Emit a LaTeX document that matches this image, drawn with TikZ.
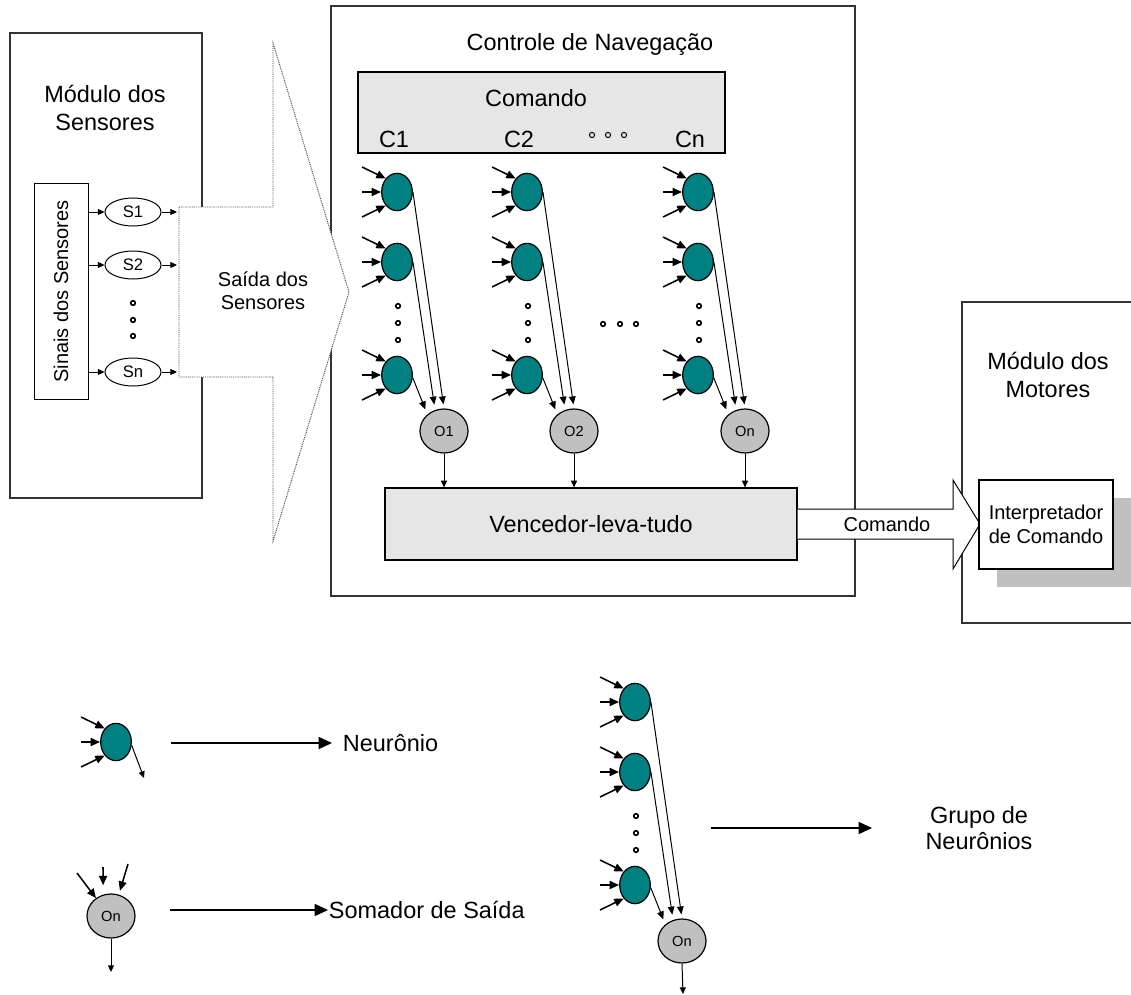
\documentclass[tikz,border=0pt]{standalone}
\usepackage{fontspec}
\setmainfont{Liberation Sans}
\usetikzlibrary{arrows.meta,shapes.geometric}

\definecolor{neurofill}{HTML}{008080}
\definecolor{sumfill}{HTML}{C0C0C0}
\definecolor{panelfill}{HTML}{E6E6E6}
\definecolor{shadowgray}{HTML}{C0C0C0}
\definecolor{edgegray}{HTML}{333333}

\newcommand{\fsz}[2]{\fontsize{#1}{#2}\selectfont}

% a neuron with its three incoming synapses
\newcommand{\inputneuron}[3]{%
  \node[neuron] (#1) at (#2,#3) {};
  \draw[inarrow] ([shift={(-35,-25)}]#1.center) -- (#1.130);
  \draw[inarrow] ([shift={(-35,0)}]#1.center) -- (#1.180);
  \draw[inarrow] ([shift={(-35,25)}]#1.center) -- (#1.230);
}

% a column of neurons feeding one output summer
\newcommand{\neurongroup}[4]{%
  \inputneuron{#1a}{#2}{#3}
  \inputneuron{#1b}{#2}{#3+70}
  \inputneuron{#1c}{#2}{#3+183}
  \foreach \dy in {114,131,148} \draw[dotmark] (#2+1,#3+\dy) circle[radius=2.3];
  \node[summer] (#1o) at (#2+47,#3+239) {#4};
  \draw[outarrow,shorten >=3pt] (#1a.east) -- (#1o.90);
  \draw[outarrow,shorten >=4pt] (#1b.east) -- (#1o.113);
  \draw[outarrow,shorten >=4pt] (#1c.-10) -- (#1o.135);
}

\begin{document}
\begin{tikzpicture}[x=0.75pt,y=-0.75pt,
  frame/.style={draw=edgegray,line width=0.9pt,rectangle,inner sep=0pt},
  neuron/.style={ellipse,draw=black,line width=0.9pt,fill=neurofill,
    minimum width=23pt,minimum height=28pt,inner sep=0pt},
  summer/.style={ellipse,draw=black,line width=0.9pt,fill=sumfill,
    minimum width=36pt,minimum height=33pt,inner sep=0pt,font=\fsz{11}{12}},
  sensor/.style={ellipse,draw=black,line width=0.75pt,fill=white,
    minimum width=42pt,minimum height=21pt,inner sep=0pt,font=\fsz{12.5}{14}},
  inarrow/.style={line width=1.15pt,-{Triangle[length=7pt,width=6pt]}},
  outarrow/.style={line width=0.75pt,-{Triangle[length=6pt,width=5pt]}},
  smallarrow/.style={line width=0.75pt,-{Triangle[length=5pt,width=4.5pt]}},
  bigarrow/.style={line width=1.1pt,-{Triangle[length=10pt,width=9pt]}},
  dotmark/.style={line width=1.2pt},
  bigtext/.style={font=\fsz{17.6}{21},align=center,inner sep=0pt},
  midtext/.style={font=\fsz{15}{18},align=center,inner sep=0pt},
]
\useasboundingbox (0,0) rectangle (1131,995);

% ---------------- outer modules ----------------
\node[frame,minimum width=144pt,minimum height=348.75pt] (sensmod) at (106,265.5) {};
\node[frame,minimum width=393pt,minimum height=442.5pt] (navmod) at (593,301) {};
\draw[draw=edgegray,line width=0.9pt] (1135,302) -- (962,302) -- (962,623) -- (1135,623);

\node[bigtext] (senstitle) at (105,108) {Módulo dos\\Sensores};
\node[bigtext] (navtitle) at (590,44) {Controle de Navegação};
\node[bigtext] (mottitle) at (1048,375) {Módulo dos\\Motores};

% ---------------- sensor module ----------------
\node[frame,draw=black,line width=0.75pt,minimum width=40.5pt,minimum height=161.25pt] (sinais) at (61,291.5) {};
\node[midtext,rotate=90] (sinaistxt) at (61,291.5) {Sinais dos Sensores};

\node[sensor] (s1) at (133,212) {S1};
\node[sensor] (s2) at (133,265) {S2};
\node[sensor] (sn) at (133,372) {Sn};
\foreach \dy in {303,320,336} \draw[dotmark] (133,\dy) circle[radius=2.3];

\coordinate (s1out) at (177,212);
\coordinate (s2out) at (177,265);
\coordinate (snout) at (177,372);
\foreach \s in {s1,s2,sn}{
  \draw[smallarrow] (sinais.east |- \s) -- (\s.west);
  \draw[smallarrow] (\s.east) -- (\s out);
}

% sensor output arrow (dotted outline)
\filldraw[fill=white,draw=black!70,line width=0.7pt,dash pattern=on 0.7pt off 0.7pt]
  (179,207) -- (273,207) -- (273,43) -- (349,292) -- (273,541) -- (273,377) -- (179,377) -- cycle;
\node[midtext,font=\fsz{15}{17.5}] (saida) at (263,291) {Saída dos\\Sensores};

% ---------------- navigation control ----------------
\node[frame,draw=black,fill=panelfill,minimum width=275.25pt,minimum height=60.75pt] (cmdpanel) at (541.5,112.5) {};
\node[bigtext] (cmdtitle) at (536,98) {Comando};
\node[bigtext] (c1) at (394,139) {C1};
\node[bigtext] (c2) at (519,139) {C2};
\node[bigtext] (cn) at (690,139) {Cn};
\foreach \dx in {592,608,624} \draw[line width=0.75pt] (\dx,135) circle[radius=2.6];

\neurongroup{ga}{397}{192}{O1}
\neurongroup{gb}{527}{192}{O2}
\neurongroup{gc}{698}{192}{On}
\foreach \dx in {603,620,636} \draw[dotmark] (\dx,324) circle[radius=2.3];

\node[frame,draw=black,fill=panelfill,minimum width=309pt,minimum height=54pt,font=\fsz{17.6}{21}] (venc) at (591,524) {Vencedor-leva-tudo};
\foreach \g in {ga,gb,gc}
  \draw[smallarrow] (\g o.south) -- (\g o.south |- venc.north);

% ---------------- command arrow and motor module ----------------
\filldraw[fill=white,draw=black,line width=0.75pt]
  (venc.east |- 0,509) -- (953,509) -- (953,480) -- (980,524) -- (953,569) -- (953,539) -- (venc.east |- 0,539);
\node[midtext] (cmdlabel) at (887,524) {Comando};

\fill[shadowgray] (997,498) rectangle (1135,587);
\node[frame,draw=black,fill=white,minimum width=100.5pt,minimum height=66.75pt,
  font=\fsz{15}{18},align=center] (interp) at (1046,524.5) {Interpretador\\de Comando};

% ---------------- legend ----------------
\inputneuron{lneur}{116}{742}
\coordinate (lneurout) at (144,778);
\draw[smallarrow] (lneur.-12) -- (lneurout);
\node[bigtext,anchor=west,inner xsep=8] (neurlbl) at (332,743) {Neurônio};
\coordinate (legA) at (171,743);
\draw[bigarrow] (legA) -- (neurlbl.west);

\node[summer] (lsum) at (111,916) {On};
\coordinate (lsin1) at (77,873);
\coordinate (lsin2) at (103,867);
\coordinate (lsin3) at (128,864);
\draw[inarrow] (lsin1) -- (lsum.130);
\draw[inarrow,shorten >=7pt] (lsin2) -- (lsum.110);
\draw[inarrow,shorten >=3pt] (lsin3) -- (lsum.70);
\coordinate (lsumout) at (111,972);
\draw[smallarrow] (lsum.south) -- (lsumout);
\node[bigtext,anchor=west,inner xsep=0.5] (sumlbl) at (328,910) {Somador de Saída};
\coordinate (legB) at (170,910);
\draw[bigarrow] (legB) -- (sumlbl.west);

\neurongroup{gl}{635}{702}{On}
\coordinate (glout) at (683,994);
\draw[smallarrow] (glo.south) -- (glout);
\coordinate (legC) at (711,828);
\coordinate (legCend) at (872,828);
\draw[bigarrow] (legC) -- (legCend);
\node[bigtext,font=\fsz{17.6}{20}] (grplbl) at (979,828) {Grupo de\\Neurônios};

\end{tikzpicture}
\end{document}
